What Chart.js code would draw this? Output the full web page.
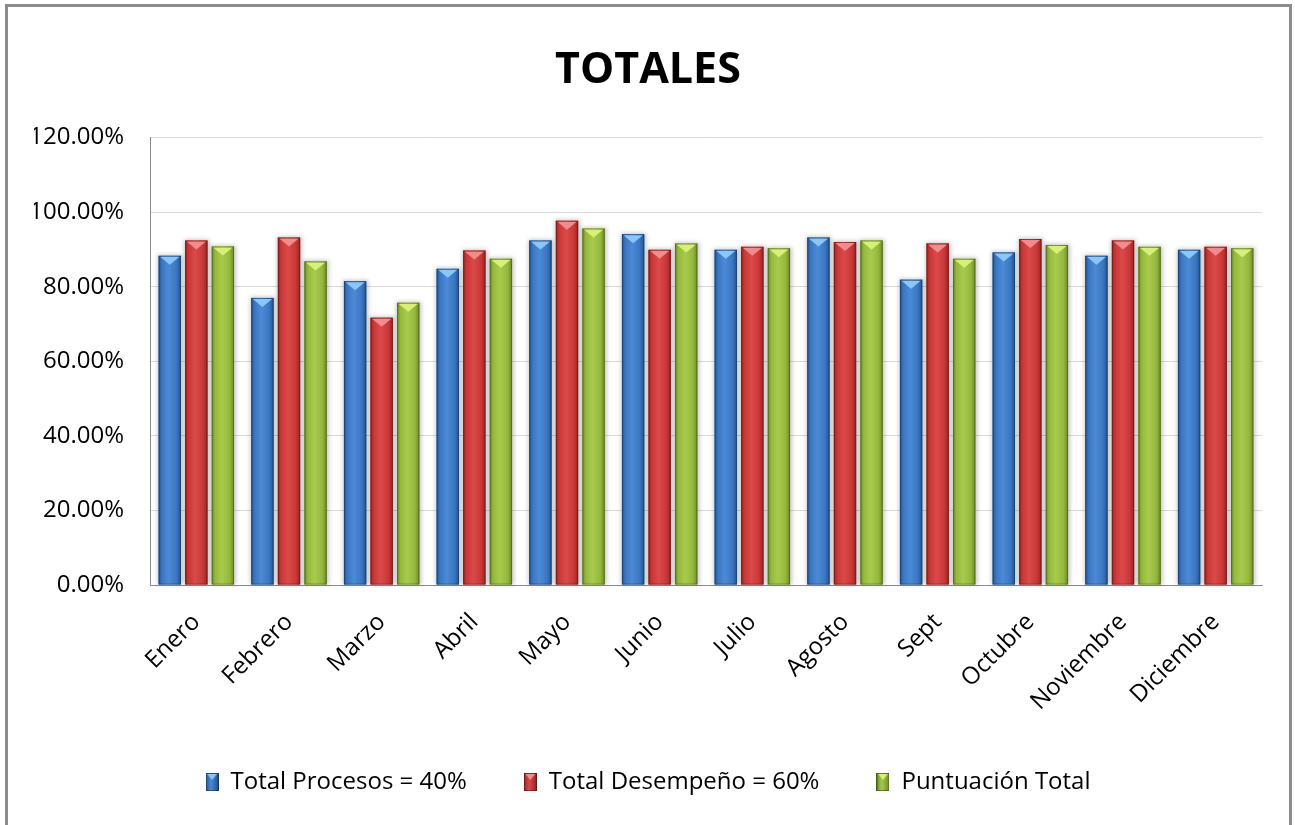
<!DOCTYPE html>
<html lang="es">
<head>
<meta charset="utf-8">
<title>Totales</title>
<script src="https://cdn.jsdelivr.net/npm/chart.js@4.4.0/dist/chart.umd.min.js"></script>
<style>
    html, body { margin: 0; padding: 0; background: #fff; }
    #contenedor { position: relative; width: 1295px; height: 825px; overflow: hidden; }
    #marco {
        position: absolute; left: 5px; top: 4px; width: 1287px; height: 860px;
        border: 3px solid #8c8c8c; box-sizing: border-box; pointer-events: none;
    }
</style>
</head>
<body>
<div id="contenedor">
    <canvas id="graficoTotales" width="1295" height="825"></canvas>
    <div id="marco"></div>
</div>
<script>
// Meses del eje X
const meses = ['Enero', 'Febrero', 'Marzo', 'Abril', 'Mayo', 'Junio', 'Julio',
               'Agosto', 'Sept', 'Octubre', 'Noviembre', 'Diciembre'];

// Valores en porcentaje
const totalProcesos   = [88.3, 77.0, 81.5, 84.8, 92.4, 94.1, 89.9, 93.2, 81.9, 89.2, 88.3, 89.9];
const totalDesempeno  = [92.4, 93.2, 71.7, 89.7, 97.7, 89.9, 90.7, 92.0, 91.6, 92.8, 92.4, 90.7];
const puntuacionTotal = [90.8, 86.8, 75.7, 87.5, 95.6, 91.6, 90.3, 92.4, 87.5, 91.2, 90.7, 90.3];

const nombresSeries = ['Total Procesos = 40%', 'Total Desempeño = 60%', 'Puntuación Total'];

// Marcas del eje Y
const marcasY = [0, 20, 40, 60, 80, 100, 120];

// Colores de cada serie: borde oscuro, centro claro, tono base y triángulo superior
const coloresSeries = [
    { base: '#3a76c2', oscuro: '#22548f', claro: '#4d8ad6', punta: '#8cc6f7' },
    { base: '#c93737', oscuro: '#962424', claro: '#db4a4a', punta: '#f08c8c' },
    { base: '#95b83d', oscuro: '#6c8a26', claro: '#a9cb4c', punta: '#d8ef78' }
];

const FUENTE = "'Open Sans', 'Noto Sans', sans-serif";

// Cuadrito de leyenda con el mismo relieve que las barras
function crearIconoLeyenda(c) {
    const cv = document.createElement('canvas');
    cv.width = 13; cv.height = 18;
    const g = cv.getContext('2d');
    const grad = g.createLinearGradient(0, 0, 13, 0);
    grad.addColorStop(0, c.oscuro);
    grad.addColorStop(0.4, c.claro);
    grad.addColorStop(1, c.oscuro);
    g.fillStyle = grad;
    g.fillRect(0, 0, 13, 18);
    g.fillStyle = c.punta;
    g.beginPath();
    g.moveTo(1.5, 1); g.lineTo(11.5, 1); g.lineTo(6.5, 7);
    g.closePath(); g.fill();
    g.strokeStyle = 'rgba(0,0,0,0.35)';
    g.strokeRect(0.5, 0.5, 12, 17);
    return cv;
}

// Plugin que pinta las barras con sombra, degradado y bisel superior
const barras3D = {
    id: 'barras3D',
    beforeDatasetsDraw(chart) {
        const ctx = chart.ctx;
        ctx.save();
        ctx.filter = 'blur(2px)';
        ctx.fillStyle = 'rgba(0,0,0,0.22)';
        chart.data.datasets.forEach((ds, i) => {
            chart.getDatasetMeta(i).data.forEach(bar => {
                const x0 = bar.x - bar.width / 2;
                ctx.fillRect(x0 - 1, bar.y - 1, bar.width + 3, bar.base - bar.y + 1);
            });
        });
        ctx.restore();
    },
    afterDatasetsDraw(chart) {
        const ctx = chart.ctx;
        ctx.save();
        chart.data.datasets.forEach((ds, i) => {
            const c = coloresSeries[i];
            chart.getDatasetMeta(i).data.forEach(bar => {
                const w = bar.width;
                const x0 = bar.x - w / 2, x1 = bar.x + w / 2;
                const arriba = bar.y, abajo = bar.base;
                const grad = ctx.createLinearGradient(x0, 0, x1, 0);
                grad.addColorStop(0, c.oscuro);
                grad.addColorStop(0.15, c.base);
                grad.addColorStop(0.45, c.claro);
                grad.addColorStop(0.8, c.base);
                grad.addColorStop(1, c.oscuro);
                ctx.fillStyle = grad;
                ctx.fillRect(x0, arriba, w, abajo - arriba);

                // bisel superior en forma de triángulo
                const h = Math.min(9, (abajo - arriba) / 2);
                ctx.fillStyle = c.punta;
                ctx.beginPath();
                ctx.moveTo(x0 + 1.5, arriba + 1);
                ctx.lineTo(x1 - 1.5, arriba + 1);
                ctx.lineTo(bar.x, arriba + h);
                ctx.closePath();
                ctx.fill();

                ctx.strokeStyle = 'rgba(0,0,0,0.25)';
                ctx.lineWidth = 1;
                ctx.strokeRect(x0 + 0.5, arriba + 0.5, w - 1, abajo - arriba - 1);
            });
        });
        ctx.restore();
    }
};

const series = [totalProcesos, totalDesempeno, puntuacionTotal];

const ctx = document.getElementById('graficoTotales').getContext('2d');
const grafico = new Chart(ctx, {
    type: 'bar',
    data: {
        labels: meses,
        datasets: series.map((valores, i) => ({
            label: nombresSeries[i],
            data: valores,
            backgroundColor: coloresSeries[i].base,
            borderWidth: 0,
            categoryPercentage: 0.86,
            barPercentage: 0.84,
            pointStyle: crearIconoLeyenda(coloresSeries[i])
        }))
    },
    options: {
        responsive: false,
        animation: false,
        layout: { padding: { left: 34, right: 33, top: 0, bottom: 21 } },
        plugins: {
            title: {
                display: true,
                text: 'TOTALES',
                color: '#000',
                font: { family: FUENTE, size: 43, weight: 'bold' },
                padding: { top: 45, bottom: 41 }
            },
            legend: {
                position: 'bottom',
                labels: {
                    usePointStyle: true,
                    pointStyleWidth: 13,
                    boxHeight: 18,
                    padding: 57,
                    color: '#000',
                    font: { family: FUENTE, size: 24 }
                }
            },
            tooltip: { enabled: false }
        },
        scales: {
            x: {
                grid: { display: false, drawTicks: false },
                border: { color: '#8a8a8a', width: 1 },
                ticks: {
                    minRotation: 45,
                    maxRotation: 45,
                    padding: 23,
                    color: '#000',
                    font: { family: FUENTE, size: 24 }
                },
                afterFit(scale) { scale.height = 128; }
            },
            y: {
                min: 0,
                max: 120,
                afterBuildTicks(scale) { scale.ticks = marcasY.map(v => ({ value: v })); },
                grid: { color: '#d9d9d9', drawTicks: false },
                border: { color: '#8a8a8a', width: 1 },
                ticks: {
                    padding: 26,
                    color: '#000',
                    font: { family: FUENTE, size: 24 },
                    callback: v => v.toFixed(2) + '%'
                },
                afterFit(scale) { scale.width = 116; }
            }
        }
    },
    plugins: [barras3D]
});
</script>
</body>
</html>
